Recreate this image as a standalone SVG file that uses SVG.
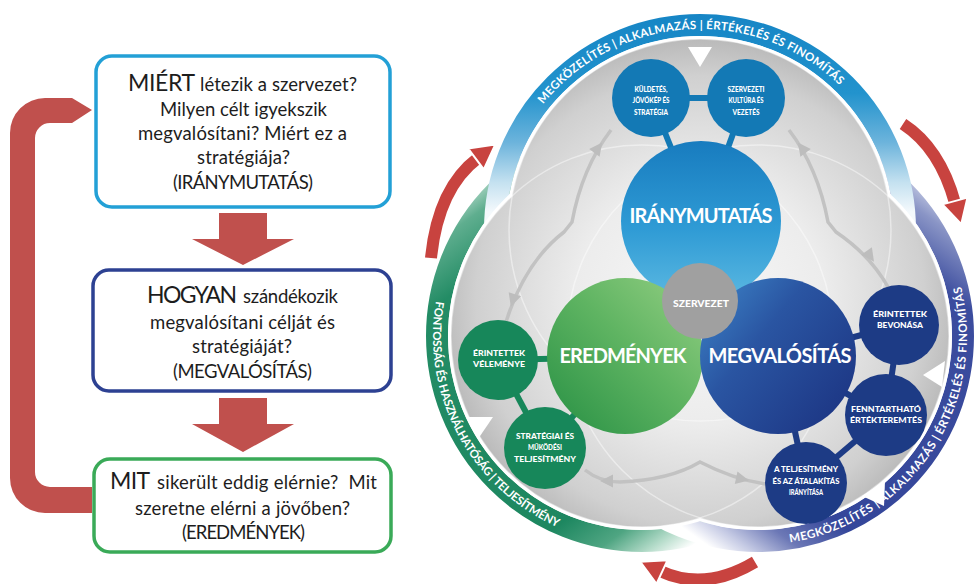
<svg xmlns="http://www.w3.org/2000/svg" width="974" height="584" viewBox="0 0 974 584">
<defs>
<style>
.q{font-family:Lato,"Open Sans","Liberation Sans",sans-serif;fill:#1d1d1d;font-size:18.5px}
.m{text-anchor:middle}
.big{font-size:23px}
.box{fill:#fff;stroke-width:3.5}
.red{fill:#c0504d}
.band{font-family:Lato,"Liberation Sans",sans-serif;font-weight:700;font-size:11.5px;fill:#fff}
.sm{font-family:Lato,"Liberation Sans",sans-serif;font-weight:900;font-size:7.5px;fill:#fff;text-anchor:middle}
.lg{font-family:Lato,"Liberation Sans",sans-serif;font-weight:700;font-size:20px;fill:#fff;text-anchor:middle}
.ga{fill:none;stroke:#c2c2c2;stroke-width:3.5}
.ra{fill:none;stroke:#c8433f;stroke-width:12}
.raw{fill:none;stroke:#fff;stroke-width:16}
.rh{fill:#c8433f;stroke:#fff;stroke-width:2;stroke-linejoin:round}
.cb{stroke:#1379b5;stroke-width:6}
.cg{stroke:#17875a;stroke-width:6}
.cp{stroke:#1d3b85;stroke-width:6}
.tri{fill:#fff}
</style>
<linearGradient id="gTopBand" gradientUnits="userSpaceOnUse" x1="0" y1="14" x2="0" y2="212">
<stop offset="0" stop-color="#1685c5"/><stop offset="0.4" stop-color="#2293cd"/><stop offset="0.65" stop-color="#6db4dc"/><stop offset="0.85" stop-color="#c4e1f0"/><stop offset="1" stop-color="#f4f9fc"/>
</linearGradient>
<linearGradient id="gGreenBand" gradientUnits="userSpaceOnUse" x1="450" y1="190" x2="700" y2="540">
<stop offset="0" stop-color="#d6ebe2"/><stop offset="0.08" stop-color="#5fae8f"/><stop offset="0.2" stop-color="#238c65"/><stop offset="0.78" stop-color="#1d8760"/><stop offset="0.88" stop-color="#4fa582"/><stop offset="0.95" stop-color="#b5dcca"/><stop offset="1" stop-color="#ffffff"/>
</linearGradient>
<linearGradient id="gPurpBand" gradientUnits="userSpaceOnUse" x1="950" y1="190" x2="700" y2="540">
<stop offset="0" stop-color="#e2e6f2"/><stop offset="0.08" stop-color="#8a95c6"/><stop offset="0.2" stop-color="#3b4c9e"/><stop offset="0.78" stop-color="#34469a"/><stop offset="0.88" stop-color="#6c78b6"/><stop offset="0.95" stop-color="#c5cae4"/><stop offset="1" stop-color="#ffffff"/>
</linearGradient>
<radialGradient id="gGray" gradientUnits="userSpaceOnUse" cx="700" cy="300" r="280">
<stop offset="0" stop-color="#f8f8f8"/><stop offset="0.45" stop-color="#ececec"/><stop offset="0.8" stop-color="#d0d0d0"/><stop offset="1" stop-color="#aeaeae"/>
</radialGradient>
<linearGradient id="gBlue" gradientUnits="userSpaceOnUse" x1="0" y1="142" x2="0" y2="300">
<stop offset="0" stop-color="#187cbf"/><stop offset="0.55" stop-color="#2f9bd5"/><stop offset="1" stop-color="#5bb8e1"/>
</linearGradient>
<linearGradient id="gGreen" gradientUnits="userSpaceOnUse" x1="560" y1="420" x2="690" y2="290">
<stop offset="0" stop-color="#2f9548"/><stop offset="0.55" stop-color="#5fb462"/><stop offset="1" stop-color="#8ccb7e"/>
</linearGradient>
<linearGradient id="gPurp" gradientUnits="userSpaceOnUse" x1="705" y1="300" x2="850" y2="420">
<stop offset="0" stop-color="#3a7dc2"/><stop offset="0.35" stop-color="#2a55a2"/><stop offset="1" stop-color="#1c3482"/>
</linearGradient>
<path id="pTop" d="M543.1,104.3 A201,201 0 0 1 841.6,87.4"/>
<path id="pGreen" d="M435.9,301.1 A209,209 0 0 0 559.3,527.9"/>
<path id="pPurp" d="M790,542.5 A209,209 0 0 0 960.2,283"/>
<path id="ah" d="M7,0 L-6,-6.5 L-6,6.5 Z" fill="#bdbdbd"/>
</defs>

<rect width="974" height="584" fill="#fff"/>

<!-- LEFT FLOWCHART -->
<g id="connectors-left">
<path class="red" d="M92,110 L72,98 L45,98 A35,35 0 0 0 10,133 L10,478 A35,35 0 0 0 45,513 L92,513 L92,487 L50,487 A15,15 0 0 1 35,472 L35,138 A15,15 0 0 1 50,123 L72,123 Z"/>
<path class="red" d="M219,213 L267,213 L267,239 L294,239 L243,265 L192,239 L219,239 Z"/>
<path class="red" d="M219,398 L267,398 L267,424 L294,424 L243,452 L192,424 L219,424 Z"/>
</g>

<g id="box-miert">
<rect class="box" x="96" y="56" width="294" height="151" rx="16" stroke="#23a0d6"/>
<text class="q big" x="128" y="91" textLength="67">MIÉRT</text>
<text class="q" x="200" y="91" textLength="157">létezik a szervezet?</text>
<text class="q m" x="243.5" y="116" textLength="167">Milyen célt igyekszik</text>
<text class="q m" x="242.5" y="140" textLength="209">megvalósítani? Miért ez a</text>
<text class="q m" x="243.5" y="164" textLength="93">stratégiája?</text>
<text class="q m" x="243" y="189" textLength="140">(IRÁNYMUTATÁS)</text>
</g>

<g id="box-hogyan">
<rect class="box" x="93" y="270" width="298" height="121" rx="16" stroke="#2d4192"/>
<text class="q big" x="147" y="303" textLength="90">HOGYAN</text>
<text class="q" x="243" y="303" textLength="95">szándékozik</text>
<text class="q m" x="242.5" y="329" textLength="185">megvalósítani célját és</text>
<text class="q m" x="242" y="353" textLength="100">stratégiáját?</text>
<text class="q m" x="242.5" y="378" textLength="139">(MEGVALÓSÍTÁS)</text>
</g>

<g id="box-mit">
<rect class="box" x="94" y="459" width="297" height="93" rx="16" stroke="#3aaa58"/>
<text class="q big" x="110" y="489" textLength="40">MIT</text>
<text class="q" x="157" y="489" textLength="220" style="white-space:pre">sikerült eddig elérnie?  Mit</text>
<text class="q m" x="242.5" y="515" textLength="215">szeretne elérni a jövőben?</text>
<text class="q m" x="243.5" y="539" textLength="123">(EREDMÉNYEK)</text>
</g>

<!-- RIGHT MODEL: rings -->
<g id="rings">
<circle cx="642" cy="336" r="205" fill="none" stroke="url(#gGreenBand)" stroke-width="22"/>
<circle cx="758" cy="336" r="205" fill="none" stroke="url(#gPurpBand)" stroke-width="22"/>
<circle cx="700" cy="230" r="205" fill="none" stroke="url(#gTopBand)" stroke-width="22"/>
<circle cx="642" cy="336" r="194" fill="#fff"/>
<circle cx="758" cy="336" r="194" fill="#fff"/>
<circle cx="700" cy="230" r="194" fill="#fff"/>
<circle cx="642" cy="336" r="191" fill="url(#gGray)"/>
<circle cx="758" cy="336" r="191" fill="url(#gGray)"/>
<circle cx="700" cy="230" r="191" fill="url(#gGray)"/>
<g fill="none" stroke="#fff" stroke-opacity="0.45" stroke-width="1.5">
<circle cx="642" cy="336" r="191"/>
<circle cx="758" cy="336" r="191"/>
<circle cx="700" cy="230" r="191"/>
</g>
<text class="band"><textPath href="#pTop" textLength="334">MEGKÖZELÍTÉS | ALKALMAZÁS | ÉRTÉKELÉS ÉS FINOMÍTÁS</textPath></text>
<text class="band"><textPath href="#pGreen" textLength="276">FONTOSSÁG ÉS HASZNÁLHATÓSÁG | TELJESÍTMÉNY</textPath></text>
<text class="band"><textPath href="#pPurp" textLength="346">MEGKÖZELÍTÉS | ALKALMAZÁS | ÉRTÉKELÉS ÉS FINOMÍTÁS</textPath></text>
<polygon class="tri" points="688,47 712,47 700,67"/>
<polygon class="tri" points="467,417 493,417 478,439"/>
<polygon class="tri" points="945,361 923,375 942,387"/>
<polygon class="tri" points="885,481 862,496 884,506"/>
</g>

<g id="connectors">
<!-- red cycle arrows -->
<path class="raw" d="M431,258 Q438,188 478,158"/>
<path class="ra" d="M431,258 Q438,188 478,158"/>
<polygon class="rh" points="495.2,144.6 483.8,169.4 468.2,148.6"/>
<path class="raw" d="M903,124 Q940,148 955,203"/>
<path class="ra" d="M903,124 Q940,148 955,203"/>
<polygon class="rh" points="961.3,224.1 967.5,197.6 942.5,204.4"/>
<path class="raw" d="M755,562 Q705,592 660,571"/>
<path class="ra" d="M755,562 Q705,592 660,571"/>
<polygon class="rh" points="640.3,561.8 667.5,560.2 656.5,583.8"/>
<!-- gray double arrows -->
<path class="ga" d="M611,130 Q582,168 572,222 L564,232 Q525,262 506,322"/>
<use href="#ah" transform="translate(598,148) rotate(-53)"/>
<use href="#ah" transform="translate(513,300) rotate(108)"/>
<path class="ga" d="M789,130 Q818,168 828,222 L836,232 Q870,255 888,287"/>
<use href="#ah" transform="translate(802,148) rotate(-127)"/>
<use href="#ah" transform="translate(870,256) rotate(55)"/>
<path class="ga" d="M585,470 Q600,482 620,482 Q670,480 700,462 Q735,480 766,484"/>
<use href="#ah" transform="translate(607,481) rotate(180)"/>
<use href="#ah" transform="translate(742,479) rotate(12)"/>
<!-- bars -->
<line class="cb" x1="651" y1="98" x2="746" y2="98"/>
<line class="cb" x1="651" y1="98" x2="701" y2="222"/>
<line class="cb" x1="746" y1="98" x2="701" y2="222"/>
<line class="cg" x1="498" y1="360" x2="625" y2="357"/>
<line class="cg" x1="498" y1="360" x2="545" y2="448"/>
<line class="cg" x1="545" y1="448" x2="625" y2="357"/>
<line class="cp" x1="899" y1="325" x2="779" y2="357"/>
<line class="cp" x1="899" y1="325" x2="886" y2="415"/>
<line class="cp" x1="886" y1="415" x2="779" y2="357"/>
<line class="cp" x1="886" y1="415" x2="806" y2="483"/>
<line class="cp" x1="806" y1="483" x2="779" y2="357"/>
</g>

<g id="iranymutatas">
<circle cx="701" cy="221" r="80" fill="url(#gBlue)"/>
<text class="lg" x="701" y="223" textLength="143">IRÁNYMUTATÁS</text>
</g>
<g id="eredmenyek">
<circle cx="625" cy="356" r="78" fill="url(#gGreen)"/>
<text class="lg" x="623" y="363" textLength="127">EREDMÉNYEK</text>
</g>
<g id="megvalositas">
<circle cx="778" cy="356" r="78" fill="url(#gPurp)"/>
<text class="lg" x="780" y="363" textLength="143">MEGVALÓSÍTÁS</text>
</g>
<g id="szervezet">
<circle cx="700" cy="301" r="38" fill="#a0a0a0"/>
<text class="sm" x="701" y="307" textLength="56" lengthAdjust="spacingAndGlyphs" style="font-size:9.5px">SZERVEZET</text>
</g>

<g id="kuldetes">
<circle cx="651" cy="98" r="39" fill="#1379b5"/>
<text class="sm"><tspan x="651" y="91.5" textLength="33" lengthAdjust="spacingAndGlyphs">KÜLDETÉS,</tspan><tspan x="651" y="103" textLength="37" lengthAdjust="spacingAndGlyphs">JÖVŐKÉP ÉS</tspan><tspan x="651" y="114.5" textLength="34" lengthAdjust="spacingAndGlyphs">STRATÉGIA</tspan></text>
</g>
<g id="kultura">
<circle cx="746" cy="98" r="39" fill="#1379b5"/>
<text class="sm"><tspan x="746" y="91.5" textLength="37" lengthAdjust="spacingAndGlyphs">SZERVEZETI</tspan><tspan x="746" y="103" textLength="35" lengthAdjust="spacingAndGlyphs">KULTÚRA ÉS</tspan><tspan x="746" y="114.5" textLength="27" lengthAdjust="spacingAndGlyphs">VEZETÉS</tspan></text>
</g>
<g id="velemenye">
<circle cx="498" cy="360" r="40" fill="#17875a"/>
<text class="sm"><tspan x="499" y="355.5" textLength="52" lengthAdjust="spacingAndGlyphs">ÉRINTETTEK</tspan><tspan x="499" y="367" textLength="52" lengthAdjust="spacingAndGlyphs">VÉLEMÉNYE</tspan></text>
</g>
<g id="strategiai">
<circle cx="545" cy="448" r="41" fill="#17875a"/>
<text class="sm"><tspan x="545" y="438.5" textLength="58" lengthAdjust="spacingAndGlyphs">STRATÉGIAI ÉS</tspan><tspan x="545" y="450" textLength="34" lengthAdjust="spacingAndGlyphs">MŰKÖDÉSI</tspan><tspan x="545" y="461.5" textLength="62" lengthAdjust="spacingAndGlyphs">TELJESÍTMÉNY</tspan></text>
</g>
<g id="bevonasa">
<circle cx="899" cy="325" r="40" fill="#1d3b85"/>
<text class="sm"><tspan x="900" y="316.5" textLength="54" lengthAdjust="spacingAndGlyphs">ÉRINTETTEK</tspan><tspan x="900" y="328" textLength="46" lengthAdjust="spacingAndGlyphs">BEVONÁSA</tspan></text>
</g>
<g id="fenntarthato">
<circle cx="886" cy="415" r="41" fill="#1d3b85"/>
<text class="sm"><tspan x="886" y="411.5" textLength="70" lengthAdjust="spacingAndGlyphs">FENNTARTHATÓ</tspan><tspan x="886" y="423" textLength="72" lengthAdjust="spacingAndGlyphs">ÉRTÉKTEREMTÉS</tspan></text>
</g>
<g id="teljesitmeny">
<circle cx="806" cy="483" r="41" fill="#1d3b85"/>
<text class="sm"><tspan x="806" y="472" textLength="64" lengthAdjust="spacingAndGlyphs">A TELJESÍTMÉNY</tspan><tspan x="806" y="483.5" textLength="67" lengthAdjust="spacingAndGlyphs">ÉS AZ ÁTALAKÍTÁS</tspan><tspan x="806" y="495" textLength="34" lengthAdjust="spacingAndGlyphs">IRÁNYÍTÁSA</tspan></text>
</g>
</svg>
